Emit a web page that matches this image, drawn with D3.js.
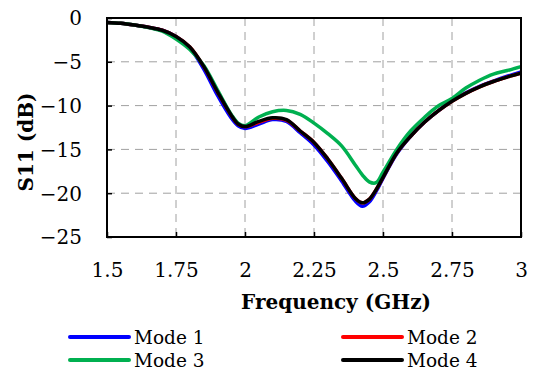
<!DOCTYPE html>
<html>
<head>
<meta charset="utf-8">
<script src="https://cdn.jsdelivr.net/npm/d3@7"></script>
<style>
  body { margin: 0; background: #fff; }
  #chart text { font-family: "DejaVu Serif", "Liberation Serif", serif; }
</style>
</head>
<body>
<svg id="chart" width="533" height="371"></svg>
<script>
// frequency grid (GHz)
const freq = [1.5, 1.55, 1.6, 1.65, 1.7, 1.75, 1.8, 1.85, 1.9, 1.95, 1.975, 2.0, 2.05, 2.1, 2.15,
  2.2, 2.25, 2.3, 2.35, 2.4, 2.425, 2.45, 2.475, 2.5, 2.55, 2.6, 2.65, 2.7, 2.75, 2.8, 2.85,
  2.9, 2.95, 3.0];

// S11 (dB) per mode
const mode1 = [-0.5, -0.6, -0.8, -1.05, -1.4, -2.1, -3.4, -5.8, -8.8, -11.4, -12.3, -12.6, -12.1, -11.6, -11.8,
  -13.1, -14.5, -16.4, -18.6, -20.9, -21.5, -21.0, -19.8, -18.3, -15.5, -13.5, -11.9, -10.6, -9.45, -8.55, -7.8,
  -7.2, -6.65, -6.15];
const mode2 = [-0.5, -0.6, -0.8, -1.05, -1.4, -2.1, -3.3, -5.5, -8.4, -11.1, -12.1, -12.4, -11.9, -11.45, -11.65,
  -12.9, -14.2, -16.1, -18.3, -20.6, -21.1, -20.7, -19.6, -18.2, -15.4, -13.5, -11.9, -10.6, -9.5, -8.6, -7.85,
  -7.25, -6.75, -6.3];
const mode3 = [-0.5, -0.6, -0.8, -1.1, -1.5, -2.4, -3.6, -5.4, -8.2, -11.0, -12.0, -12.3, -11.3, -10.7, -10.55,
  -11.0, -12.0, -13.2, -14.6, -16.8, -17.9, -18.7, -18.8, -17.6, -15.0, -12.9, -11.35, -10.05, -9.2, -8.0, -7.1,
  -6.4, -6.0, -5.55];
const mode4 = [-0.5, -0.6, -0.8, -1.05, -1.4, -2.1, -3.3, -5.5, -8.4, -11.1, -12.1, -12.4, -11.8, -11.4, -11.6,
  -12.9, -14.2, -16.1, -18.3, -20.6, -21.1, -20.7, -19.6, -18.2, -15.4, -13.5, -11.9, -10.6, -9.5, -8.6, -7.85,
  -7.25, -6.75, -6.3];

const seriesNames = ['Mode 1', 'Mode 2', 'Mode 3', 'Mode 4'];
const seriesColors = ['#0000ff', '#ff0000', '#00b050', '#000000'];
const seriesValues = [mode1, mode2, mode3, mode4];

const xTicks = [1.5, 1.75, 2, 2.25, 2.5, 2.75, 3];
const xTickLabels = ['1.5', '1.75', '2', '2.25', '2.5', '2.75', '3'];
const yTicks = [0, -5, -10, -15, -20, -25];

const svg = d3.select('#chart');
const plotLeft = 107, plotRight = 521, plotTop = 18, plotBottom = 237;

const x = d3.scaleLinear().domain([1.5, 3]).range([plotLeft, plotRight]);
const y = d3.scaleLinear().domain([-25, 0]).range([plotBottom, plotTop]);

// grid
const grid = svg.append('g');
grid.selectAll('.vg').data(xTicks.slice(1, -1)).enter().append('line')
  .attr('x1', d => x(d)).attr('x2', d => x(d)).attr('y1', plotTop).attr('y2', plotBottom)
  .attr('stroke', '#a0a0a0').attr('stroke-width', 1).attr('stroke-dasharray', '8,6');
grid.selectAll('.hg').data(yTicks.slice(1, -1)).enter().append('line')
  .attr('x1', plotLeft).attr('x2', plotRight).attr('y1', d => y(d)).attr('y2', d => y(d))
  .attr('stroke', '#a0a0a0').attr('stroke-width', 1).attr('stroke-dasharray', '8,6');

// curves
const line = d3.line()
  .x((d, i) => x(freq[i]))
  .y(d => y(d))
  .curve(d3.curveCatmullRom.alpha(0.5));

seriesValues.forEach((vals, k) => {
  svg.append('path')
    .datum(vals)
    .attr('d', line)
    .attr('fill', 'none')
    .attr('stroke', seriesColors[k])
    .attr('stroke-width', 3.5)
    .attr('stroke-linejoin', 'round');
});

// axes (ticks pointing inward)
const xAxis = svg.append('g').attr('transform', `translate(0,${plotBottom})`)
  .call(d3.axisBottom(x).tickValues(xTicks).tickSizeInner(-5).tickSizeOuter(0)
    .tickFormat((d, i) => xTickLabels[i]));
const yAxis = svg.append('g').attr('transform', `translate(${plotLeft},0)`)
  .call(d3.axisLeft(y).tickValues(yTicks).tickSizeInner(-5).tickSizeOuter(0)
    .tickFormat(d3.format('d')));
[xAxis, yAxis].forEach(a => {
  a.attr('font-family', null).attr('font-size', null);
  a.select('.domain').remove();
  a.selectAll('line').attr('stroke', '#000').attr('stroke-width', 1.5);
  a.selectAll('text').attr('fill', '#000').style('font-size', '20px');
});
xAxis.selectAll('text').attr('dy', null).attr('y', 40);
yAxis.selectAll('text').attr('x', -25).attr('dy', '0.34em');

// frame
svg.append('rect')
  .attr('x', plotLeft).attr('y', plotTop).attr('width', plotRight - plotLeft).attr('height', plotBottom - plotTop)
  .attr('fill', 'none').attr('stroke', '#000').attr('stroke-width', 2);

// axis titles
svg.append('text')
  .attr('x', 336).attr('y', 309)
  .attr('text-anchor', 'middle')
  .style('font-size', '20px').style('font-weight', 'bold')
  .text('Frequency (GHz)');
svg.append('text')
  .attr('transform', 'translate(33,142) rotate(-90)')
  .attr('text-anchor', 'middle')
  .style('font-size', '20px').style('font-weight', 'bold')
  .text('S11 (dB)');

// legend
const legendPos = [[70, 337], [343, 337], [70, 360], [343, 360]];
seriesNames.forEach((name, k) => {
  const [lx, ly] = legendPos[k];
  svg.append('line')
    .attr('x1', lx).attr('x2', lx + 59).attr('y1', ly).attr('y2', ly)
    .attr('stroke', seriesColors[k]).attr('stroke-width', 4).attr('stroke-linecap', 'round');
  svg.append('text')
    .attr('x', lx + 64).attr('y', ly + 6.5)
    .style('font-size', '18.5px')
    .text(name);
});
</script>
</body>
</html>
